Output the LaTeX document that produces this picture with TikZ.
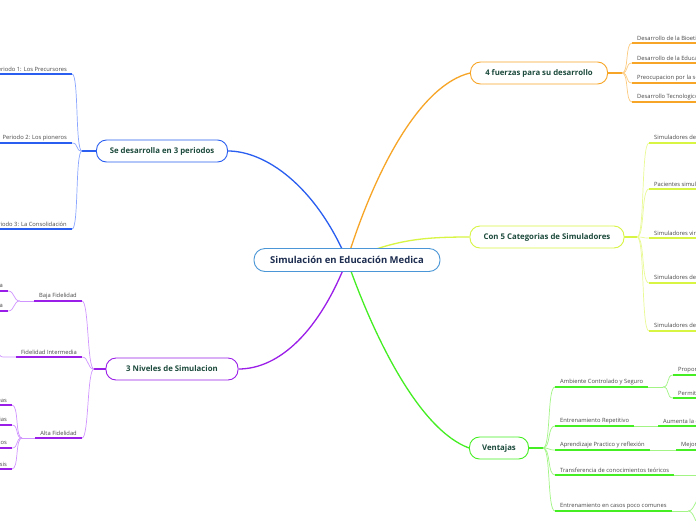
\documentclass[tikz,border=0pt]{standalone}
\usepackage{fontspec}
\setmainfont{Open Sans}
\pgfdeclarelayer{bg}
\pgfsetlayers{bg,main}

\definecolor{cenbrd}{HTML}{4A96D6}
\definecolor{centxt}{HTML}{1D2D50}
\definecolor{toptxt}{HTML}{1C4A3C}
\definecolor{bluek}{HTML}{2A5EF0}
\definecolor{bluel}{HTML}{8AA6FF}
\definecolor{orank}{HTML}{F7A526}
\definecolor{oranl}{HTML}{FCCB80}
\definecolor{yelk}{HTML}{D7F542}
\definecolor{yell}{HTML}{E9FA95}
\definecolor{purk}{HTML}{9B1DE8}
\definecolor{purl}{HTML}{D095FF}
\definecolor{grek}{HTML}{44EE22}
\definecolor{grel}{HTML}{A2F585}

\begin{document}
\begin{tikzpicture}[x=1pt, y=-1pt,
    topic/.style={draw, line width=0.9pt, rounded corners=10pt, fill=white,
      minimum height=22pt, inner xsep=6pt, text=toptxt,
      font=\fontsize{7.8}{9}\selectfont\bfseries},
    leaf/.style={inner xsep=5pt, inner ysep=2.2pt, text=black!72,
      font=\fontsize{5.8}{6.8}\selectfont},
    main/.style={line width=1.3pt},
    uline/.style={line width=1.5pt},
    thin/.style={line width=0.7pt}]

    \useasboundingbox (0,0) rectangle (696,520);
    \clip (0,0) rectangle (696,520);

    %% central topic
    \node[topic, draw=cenbrd, text=centxt, minimum width=186pt, minimum height=23pt,
      rounded corners=11pt, font=\fontsize{9.5}{11}\selectfont\bfseries] (c) at (347,260)
      {Simulación en Educación Medica};

    %% main topics
    \node[topic, draw=bluek, minimum width=131pt] (per) at (162,151) {Se desarrolla en 3 periodos};
    \node[topic, draw=orank, minimum width=137pt] (fza) at (539,73) {4 fuerzas para su desarrollo};
    \node[topic, draw=yelk, minimum width=154pt] (cat) at (547,237) {Con 5 Categorias de Simuladores};
    \node[topic, draw=purk, minimum width=132pt] (niv) at (172,369) {3 Niveles de Simulacion};
    \node[topic, draw=grek, minimum width=59pt] (ven) at (499,448) {Ventajas};

    %% periods (left, blue)
    \coordinate (jp) at (82,151);
    \node[leaf, anchor=south east] (p1) at (72,74) {Periodo 1: Los Precursores};
    \node[leaf, anchor=south east] (p2) at (72,143) {Periodo 2: Los pioneros};
    \node[leaf, anchor=south east] (p3) at (72,229) {Periodo 3: La Consolidación};
    \foreach \n in {p1,p2,p3}
      \draw[uline, bluek] (\n.south west) -- (\n.south east);

    %% levels (left, purple)
    \coordinate (jn) at (94,369);
    \node[leaf, anchor=south east] (n1) at (82,301) {Baja Fidelidad};
    \node[leaf, anchor=south east] (n2) at (82,357) {Fidelidad Intermedia};
    \node[leaf, anchor=south east] (n3) at (82,438) {Alta Fidelidad};
    \coordinate (jb) at (20,301);
    \node[leaf, anchor=south east] (b1) at (8,291) {Simulador de Tarea Especifica};
    \node[leaf, anchor=south east] (b2) at (8,311) {Maniqui de Baja Tecnologia};
    \coordinate (ji) at (3,357);
    \coordinate (ix) at (-8,344);
    \coordinate (ja) at (22,438);
    \node[leaf, anchor=south east] (a1) at (12,405) {Simuladores Interactivos de Tareas};
    \node[leaf, anchor=south east] (a2) at (12,425) {Realidad Virtual en Cirugias};
    \node[leaf, anchor=south east] (a3) at (12,448) {Pacientes Simulados Completos};
    \node[leaf, anchor=south east] (a4) at (12,469) {Simulacion de Crisis};
    \foreach \n in {n1,n2,n3,b1,b2,a1,a2,a3,a4}
      \draw[uline, purk] (\n.south west) -- (\n.south east);

    %% forces (right, orange)
    \coordinate (jf) at (622,73);
    \node[leaf, anchor=south west] (f1) at (632,43) {Desarrollo de la Bioetica};
    \node[leaf, anchor=south west] (f2) at (632,63) {Desarrollo de la Educacion Medica};
    \node[leaf, anchor=south west] (f3) at (632,83) {Preocupacion por la seguridad del paciente};
    \node[leaf, anchor=south west] (f4) at (632,102) {Desarrollo Tecnologico};
    \foreach \n in {f1,f2,f3,f4}
      \draw[uline, orank] (\n.south west) -- (\n.south east);

    %% categories (right, yellow)
    \coordinate (js) at (637,237);
    \node[leaf, anchor=south west] (s1) at (649,143) {Simuladores de uso especifico};
    \node[leaf, anchor=south west] (s2) at (649,189) {Pacientes simulados};
    \node[leaf, anchor=south west] (s3) at (649,238) {Simuladores virtuales};
    \node[leaf, anchor=south west] (s4) at (649,283) {Simuladores de tareas complejas};
    \node[leaf, anchor=south west] (s5) at (649,331) {Simuladores de paciente completo};
    \foreach \n in {s1,s2,s3,s4,s5}
      \draw[uline, yelk] (\n.south west) -- (\n.south east);

    %% advantages (right, green)
    \coordinate (jv) at (543,448);
    \node[leaf, anchor=south west] (v1) at (555,387) {Ambiente Controlado y Seguro};
    \node[leaf, anchor=south west] (v2) at (555,426) {Entrenamiento Repetitivo};
    \node[leaf, anchor=south west] (v3) at (555,450) {Aprendizaje Practico y reflexión};
    \node[leaf, anchor=south west] (v4) at (555,475) {Transferencia de conocimientos teóricos};
    \node[leaf, anchor=south west] (v5) at (555,511) {Entrenamiento en casos poco comunes};
    \coordinate (jv1) at (663,387);
    \node[leaf, anchor=south west] (v1a) at (673,375) {Proporciona un entorno sin riesgos};
    \node[leaf, anchor=south west] (v1b) at (673,398) {Permite cometer errores};
    \node[leaf, anchor=south west] (v2a) at (658,426) {Aumenta la confianza};
    \node[leaf, anchor=south west] (v3a) at (676,450) {Mejora las habilidades};
    \coordinate (v4x) at (700,475);
    \coordinate (jv5) at (688,511);
    \coordinate (v5x) at (702,497);
    \coordinate (v5y) at (702,527);
    \foreach \n in {v1,v2,v3,v4,v5,v1a,v1b,v2a,v3a}
      \draw[uline, grek] (\n.south west) -- (\n.south east);

    \begin{pgfonlayer}{bg}
      \fill[white] (0,0) rectangle (696,520);
      \clip (0,0) rectangle (696,520);

      %% central connectors
      \draw[main, bluek] (c.center) .. controls (315,185) and (265,151) .. (per.east);
      \draw[main, orank] (c.center) .. controls (375,170) and (420,85) .. (fza.west);
      \draw[main, yelk] (c.center) .. controls (395,240) and (420,237) .. (cat.west);
      \draw[main, purk] (c.center) .. controls (320,330) and (280,369) .. (niv.east);
      \draw[main, grek] (c.center) .. controls (375,340) and (420,430) .. (ven.west);

      %% stubs to junctions
      \draw[main, bluek] (per.west) -- (jp);
      \draw[main, orank] (fza.east) -- (jf);
      \draw[main, yelk] (cat.east) -- (js);
      \draw[main, purk] (niv.west) -- (jn);
      \draw[main, grek] (ven.east) -- (jv);

      %% branches
      \foreach \n in {p1,p2,p3}
        \draw[thin, bluel] (jp) .. controls +(-7,0) and +(7,0) .. (\n.south east);
      \foreach \n in {n1,n2,n3}
        \draw[thin, purl] (jn) .. controls +(-7,0) and +(7,0) .. (\n.south east);
      \draw[thin, purl] (n1.south west) -- (jb);
      \foreach \n in {b1,b2}
        \draw[thin, purl] (jb) .. controls +(-7,0) and +(7,0) .. (\n.south east);
      \draw[thin, purl] (n2.south west) -- (ji) .. controls +(-6,0) and +(6,0) .. (ix);
      \draw[thin, purl] (n3.south west) -- (ja);
      \foreach \n in {a1,a2,a3,a4}
        \draw[thin, purl] (ja) .. controls +(-7,0) and +(7,0) .. (\n.south east);
      \foreach \n in {f1,f2,f3,f4}
        \draw[thin, oranl] (jf) .. controls +(7,0) and +(-7,0) .. (\n.south west);
      \foreach \n in {s1,s2,s3,s4,s5}
        \draw[thin, yell] (js) .. controls +(8,0) and +(-8,0) .. (\n.south west);
      \foreach \n in {v1,v2,v3,v4,v5}
        \draw[thin, grel] (jv) .. controls +(8,0) and +(-8,0) .. (\n.south west);
      \draw[thin, grel] (v1.south east) -- (jv1);
      \foreach \n in {v1a,v1b}
        \draw[thin, grel] (jv1) .. controls +(7,0) and +(-7,0) .. (\n.south west);
      \draw[thin, grel] (v2.south east) -- (v2a.south west);
      \draw[thin, grel] (v3.south east) -- (v3a.south west);
      \draw[thin, grel] (v4.south east) -- (v4x);
      \draw[thin, grel] (v5.south east) -- (jv5);
      \draw[thin, grel] (jv5) .. controls +(7,0) and +(-7,0) .. (v5x);
      \draw[thin, grel] (jv5) .. controls +(7,0) and +(-7,0) .. (v5y);
    \end{pgfonlayer}
\end{tikzpicture}
\end{document}
